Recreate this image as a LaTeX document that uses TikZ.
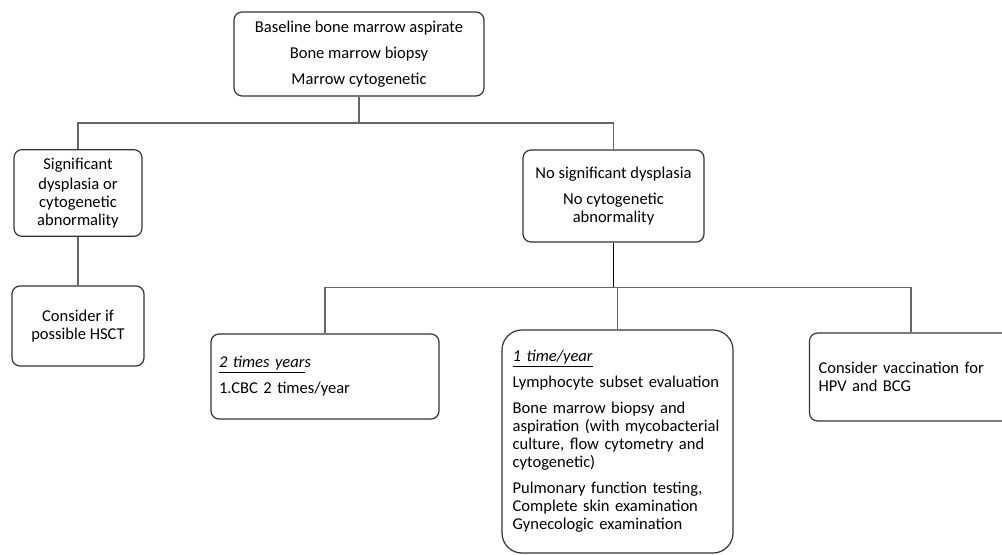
\documentclass[tikz,border=0pt]{standalone}
\usepackage{fontspec}
\setmainfont{Carlito}
\begin{document}
\begin{tikzpicture}[x=0.75pt,y=-0.75pt,
  box/.style={draw=black!80, line width=0.9pt, rounded corners=6pt,
    font=\fontsize{12.4}{13.5}\selectfont, inner sep=0pt, align=center},
  lbox/.style={box, align=left},
  conn/.style={draw=black!60, line width=0.9pt},
  thick conn/.style={draw=black, line width=1.4pt}]
\clip (0,0) rectangle (1002,554);
\fill[white] (0,0) rectangle (1002,554);

\node[box, minimum width=187.5pt, minimum height=63pt] (top) at (359,54)
  {Baseline bone marrow aspirate\\[6pt]Bone marrow biopsy\\[6pt]Marrow cytogenetic};
\node[box, minimum width=96pt, minimum height=65pt] (sig) at (78,193)
  {Significant\\[1.5pt]dysplasia or\\cytogenetic\\abnormality};
\node[box, minimum width=99pt, minimum height=60pt] (hsct) at (78,326)
  {Consider if\\possible HSCT};
\node[box, minimum width=135.75pt, minimum height=69pt] (nosig) at (613.5,196)
  {No significant dysplasia\\[6pt]No cytogenetic\\abnormality};
\node[lbox, inner xsep=6pt, text width=159pt, minimum width=171pt, minimum height=63.75pt] (twice) at (325,376.5)
  {\underline{\textit{2 times year}}\textit{s}\\[6pt]1.CBC 2 times/year};
\node[lbox, rounded corners=15pt, inner xsep=8pt, text width=157.25pt, minimum width=173.25pt, minimum height=167.25pt] (once) at (617.5,441.5)
  {\underline{\textit{1 time/year}}\\[6pt]Lymphocyte subset evaluation\\[6pt]Bone marrow biopsy and\\aspiration (with mycobacterial\\culture, flow cytometry and\\cytogenetic)\\[6pt]Pulmonary function testing,\\Complete skin examination\\Gynecologic examination};
\node[lbox, inner xsep=6.75pt, text width=138.75pt, minimum width=152.25pt, minimum height=66pt] (vacc) at (911,377)
  {Consider vaccination for\\HPV and BCG};

\coordinate (j1) at (359,123);
\coordinate (j2) at (613.5,287.5);
\draw[conn] (top.south) -- (j1);
\draw[conn] (j1) -| (sig.north);
\draw[conn] (j1) -| (nosig.north);
\draw[conn] (sig.south) -- (hsct.north);
\draw[thick conn] (nosig.south) -- (j2);
\draw[conn] (j2) -| (twice.north);
\draw[conn] (j2) -| (once.north);
\draw[conn] (j2) -| (vacc.north);
\end{tikzpicture}
\end{document}
